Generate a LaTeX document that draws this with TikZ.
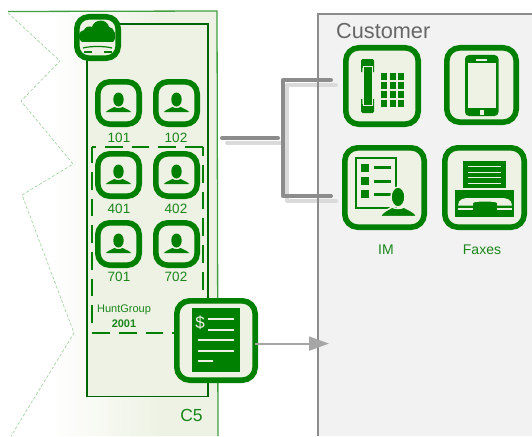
\documentclass[tikz,border=0pt]{standalone}
\usepackage{fontspec}
\setmainfont{Liberation Sans}
\usetikzlibrary{arrows.meta}
\definecolor{panel}{HTML}{EEF2E4}
\definecolor{gr}{HTML}{008000}
\definecolor{dgr}{HTML}{006400}
\definecolor{txtgr}{HTML}{1A861A}
\definecolor{lnk}{HTML}{8C8C8C}
\definecolor{lnklight}{HTML}{DADADA}
\definecolor{zig}{HTML}{98D098}
\pgfdeclarehorizontalshading{panelshade}{100bp}{color(0bp)=(white); color(35bp)=(white); color(61bp)=(panel); color(100bp)=(panel)}
\tikzset{
  iconbox/.style={draw=gr,line width=5.6pt,fill=panel,rounded corners=12pt,inner sep=0pt,outer sep=0pt},
  bigbox/.style={iconbox,line width=5.6pt,rounded corners=13pt},
  lab/.style={text=txtgr,inner sep=0pt},
  darklink/.style={draw=lnk,line width=4pt,line cap=round,line join=round},
  lightlink/.style={draw=lnklight,line width=4pt,line cap=round,line join=round},
  huntedge/.style={draw=gr,line width=2.2pt,dash pattern=on 17.7pt off 9pt},
}
\newcommand\iconframe[6][iconbox]{%
  \pgfmathsetmacro\iw{#5-#3-5.6}\pgfmathsetmacro\ih{#6-#4-5.6}%
  \pgfmathsetmacro\icx{(#3+#5)/2}\pgfmathsetmacro\icy{(#4+#6)/2}%
  \node[#1,minimum width=\iw pt,minimum height=\ih pt] (#2) at (\icx,\icy) {};}
\newcommand\userglyph[2]{%
  \begin{scope}[shift={(#1,#2)}]
    \fill[gr] (0,-3.5) ellipse (5.2 and 7);
    \fill[gr] (-12.7,9) .. controls (-9,5.5) and (-6,5.5) .. (-4,4)
      .. controls (-2,5.5) and (2,5.5) .. (4,4)
      .. controls (6,5.5) and (9,5.5) .. (12.7,9) -- cycle;
  \end{scope}}
\begin{document}
\begin{tikzpicture}[x=1pt,y=-1pt]
\useasboundingbox (0,0) rectangle (532,436);
% C5 region
\shade[shading=panelshade] (8,12) -- (217,11) -- (218,436) -- (11,436) -- (74,333) -- (22,195) -- (73,164) -- (21,101) -- (60,61) -- cycle;
\draw[zig,densely dashed,line width=.6pt] (8,13) -- (60,61) -- (21,101) -- (73,164) -- (22,195) -- (74,333) -- (11,436);
\draw[gr!75!white,line width=1.3pt] (8,11.5) -- (217,11) -- (218,436);
% customer
\fill[black!5] (318,14) rectangle (532,436);
% connectors
\coordinate (inA) at (227,143); \coordinate (inB) at (287,143);
\coordinate (upA) at (287,85);  \coordinate (upB) at (336,85);
\coordinate (loA) at (287,201); \coordinate (loB) at (336,201);
\coordinate (dkA) at (222,138); \coordinate (dkB) at (278,138);
\coordinate (dupA) at (283,80); \coordinate (dupB) at (331,80);
\coordinate (dloA) at (283,196); \coordinate (dloB) at (331,196);
\draw[lightlink] (inA) -- (inB);
\draw[lightlink] (upB) -- (upA) -- (loA) -- (loB);
\draw[darklink] (dkA) -- (dkB);
\draw[darklink] (dupB) -- (dupA) -- (dloA) -- (dloB);
\draw[draw=lnk,line width=2pt] (532,14) -- (318,14) -- (318,436);
\node[text=black!60,font=\fontsize{21.7}{24}\selectfont,anchor=west,inner sep=0pt] (cust) at (336,31) {Customer};
% device box
\node[draw=dgr,line width=1.6pt,fill=panel,minimum width=121pt,minimum height=372.5pt,inner sep=0pt,outer sep=0pt] (devbox) at (147.5,210.3) {};
% hunt group
\coordinate (hTL) at (92.3,147); \coordinate (hTR) at (202.8,147);
\coordinate (hBL) at (92.3,333); \coordinate (hBR) at (202.8,333);
\coordinate (hLs) at (92.3,323);
\draw[huntedge] (hBL) -- (hBR);
\draw[huntedge] (hTR) -- (hTL);
\draw[huntedge] (hLs) -- (hTL);
\draw[huntedge,dash phase=8.7pt] (hTR) -- (hBR);
\node[lab,font=\fontsize{11}{13}\selectfont] (hg) at (124,310) {HuntGroup};
\node[lab,font=\fontsize{11}{13}\selectfont\bfseries] (hgn) at (124,323.5) {2001};
\node[lab,font=\fontsize{17.5}{20}\selectfont] (c5) at (191.5,415) {C5};
% cloud
\iconframe{cloud}{74}{14}{121}{61}
\fill[gr] (82,42) .. controls (77,39) and (78,31) .. (84,30) .. controls (86,26) and (90,26) .. (92,27)
  .. controls (94,19) and (107,18) .. (109,27) .. controls (114,27) and (118,37) .. (113,42) -- cycle;
\draw[gr,line width=1.2pt] (83,48) .. controls (90,46) and (105,46) .. (112,48);
\draw[gr,line width=1.2pt] (84,52) -- (92,52) (104,52) -- (112,52);
% users
\iconframe{uA}{95}{79}{142}{127}\userglyph{118.5}{103}
\iconframe{uB}{153}{79}{200}{127}\userglyph{176.5}{103}
\iconframe{uC}{95}{151}{142}{199}\userglyph{118.5}{175}
\iconframe{uD}{153}{151}{200}{199}\userglyph{176.5}{175}
\iconframe{uE}{95}{220}{142}{268}\userglyph{118.5}{244}
\iconframe{uF}{153}{220}{200}{268}\userglyph{176.5}{244}
\tikzset{num/.style={lab,font=\fontsize{13.5}{15}\selectfont}}
\node[num] (tA) at (119,137.5) {101};
\node[num] (tB) at (176,137.5) {102};
\node[num] (tC) at (119,208.5) {401};
\node[num] (tD) at (176,208.5) {402};
\node[num] (tE) at (119,277) {701};
\node[num] (tF) at (176,277) {702};
% invoice
\iconframe[bigbox]{inv}{174}{298}{258}{383}
\fill[gr] (192,308) rectangle (240,372);
\node[text=panel,font=\fontsize{17}{17}\selectfont,inner sep=0pt] (dollar) at (200,323) {\$};
\draw[panel,line width=1.5pt] (208,319) -- (234,319) (208,330) -- (234,330) (198,340) -- (234,340) (198,351) -- (234,351) (198,361) -- (213,361);
\coordinate (arrowEnd) at (329,343.6);
\draw[draw=black!35,line width=2pt,-{Triangle[length=20pt,width=14pt,fill=black!35]}] (inv.east |- arrowEnd) -- (arrowEnd);
% desk phone
\iconframe[bigbox]{desk}{343}{45}{421}{127}
\fill[gr,rounded corners=1.5pt] (361,59) rectangle (374,68);
\fill[gr,rounded corners=1.5pt] (361,104) rectangle (374,113);
\fill[gr] (361,66) rectangle (362.3,72) (373,66) rectangle (374,72) (361,99) rectangle (362.3,105) (373,99) rectangle (374,105);
\fill[gr] (363.5,66) rectangle (372,105);
\draw[panel,line width=.9pt] (363,66.5) rectangle (372.7,105);
\foreach \cx in {381,389.7,398} \foreach \cy in {73,82,91,100} \fill[gr] (\cx,\cy) rectangle +(6,6.5);
% mobile
\iconframe[bigbox]{mob}{444}{45}{519}{125}
\fill[gr,rounded corners=4pt] (465,55) rectangle (498.5,116);
\fill[panel] (467.5,63) rectangle (496,108);
\draw[panel,line width=1.2pt] (476,60) -- (487,60);
\fill[panel] (480,110) rectangle (484,114.5);
% IM
\iconframe[bigbox]{im}{342}{145}{427}{230}
\draw[gr,line width=1.5pt] (356,158) rectangle (396,208);
\foreach \cy in {164,177,190} {\fill[gr] (361,\cy) rectangle +(8,8);}
\draw[gr,line width=3pt] (374,167.5) -- (391,167.5) (374,181) -- (391,181) (374,194) -- (391,194);
\fill[gr,draw=panel,line width=1.5pt] (398,197) ellipse (7 and 10);
\fill[gr,draw=panel,line width=1.5pt] (380,216.5) .. controls (384,210) and (389,209.5) .. (392,207) .. controls (395,209) and (401,209) .. (404,207) .. controls (407,209.5) and (413,210) .. (417,216.5) -- cycle;
% Fax
\iconframe[bigbox]{fax}{442}{145}{527}{230}
\fill[gr] (463,161) rectangle (506,188);
\draw[panel,line width=1pt] (468,166.5) -- (501,166.5) (468,172) -- (501,172) (468,177.5) -- (501,177.5) (468,183) -- (501,183);
\fill[gr] (455,190) rectangle (514,217);
\fill[panel] (458,205.5) .. controls (458.5,199) and (463,198) .. (470,198) -- (500,198) .. controls (507,198) and (511.5,199) .. (512,205.5) -- (497,205.5) -- (497,203) .. controls (496,201) and (474,201) .. (473,203) -- (473,205.5) -- cycle;
\draw[panel,line width=1.8pt] (458,208.7) -- (473,208.7) (497,208.7) -- (512,208.7);
\node[lab,font=\fontsize{14}{16}\selectfont] (imt) at (386,249.5) {IM};
\node[lab,font=\fontsize{14}{16}\selectfont] (faxt) at (482,249.5) {Faxes};
\end{tikzpicture}
\end{document}
